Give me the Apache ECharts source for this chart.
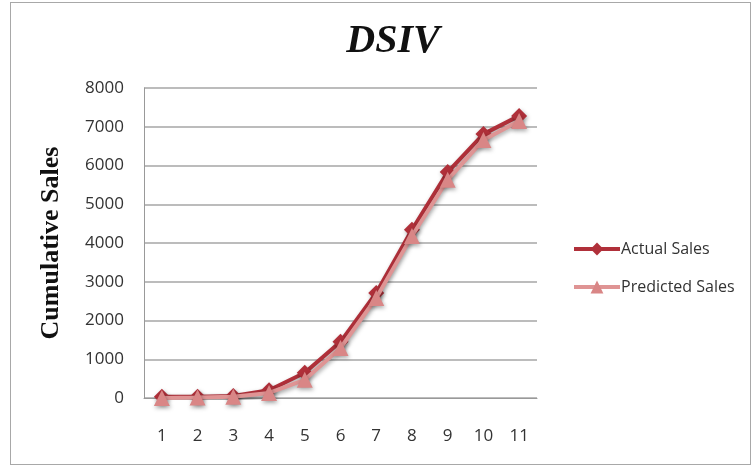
<!DOCTYPE html>
<html>
<head>
<meta charset="utf-8">
<script src="https://cdn.jsdelivr.net/npm/echarts@6/dist/echarts.min.js"></script>
<style>
  html, body { margin: 0; padding: 0; background: #fff; }
  #frame { position: absolute; left: 10px; top: 2px; width: 741px; height: 463px; border: 1px solid #a8a8a8; box-sizing: border-box; }
  #chart { width: 755px; height: 471px; }
</style>
</head>
<body>
<div id="frame"></div>
<div id="chart"></div>
<script>
// Period index along the x axis
const periods = ['1', '2', '3', '4', '5', '6', '7', '8', '9', '10', '11'];
// Cumulative sales per period
const actualSales = [30, 30, 50, 200, 650, 1450, 2710, 4340, 5830, 6810, 7280];
const predictedSales = [0, 10, 30, 130, 470, 1290, 2580, 4180, 5630, 6660, 7150];
// Value axis range
const yMin = 0;
const yMax = 8000;
const yStep = 1000;

const chart = echarts.init(document.getElementById('chart'));

const lineShadow = {
  shadowColor: 'rgba(0,0,0,0.35)',
  shadowBlur: 4,
  shadowOffsetX: 1,
  shadowOffsetY: 2
};

chart.setOption({
  backgroundColor: 'transparent',
  animation: false,
  title: {
    text: 'DSIV',
    left: 388,
    textAlign: 'center',
    top: 17,
    textStyle: {
      fontFamily: 'Liberation Serif',
      fontStyle: 'italic',
      fontWeight: 'bold',
      fontSize: 40,
      color: '#111'
    }
  },
  legend: {
    orient: 'vertical',
    left: 567,
    top: 236,
    itemGap: 22,
    itemWidth: 46,
    itemHeight: 16,
    lineStyle: { width: 4 },
    textStyle: {
      fontFamily: 'Open Sans',
      fontSize: 16,
      color: '#333',
      padding: [0, 0, 0, -4]
    },
    data: ['Actual Sales', 'Predicted Sales']
  },
  grid: {
    left: 144,
    top: 88,
    width: 393,
    height: 310,
    containLabel: false
  },
  xAxis: {
    type: 'category',
    data: periods,
    boundaryGap: true,
    axisLine: { show: true, lineStyle: { color: '#999', width: 1 } },
    axisTick: { show: false },
    axisLabel: {
      margin: 30,
      fontFamily: 'Open Sans',
      fontSize: 17,
      color: '#333'
    }
  },
  yAxis: {
    type: 'value',
    min: yMin,
    max: yMax,
    interval: yStep,
    name: 'Cumulative Sales',
    nameLocation: 'middle',
    nameGap: 80,
    nameRotate: 90,
    nameTextStyle: {
      fontFamily: 'Liberation Serif',
      fontWeight: 'bold',
      fontSize: 26,
      color: '#111'
    },
    axisLine: { show: true, lineStyle: { color: '#999', width: 1 } },
    axisTick: { show: false },
    splitLine: { lineStyle: { color: '#a6a6a6', width: 1.5 } },
    axisLabel: {
      margin: 20,
      fontFamily: 'Open Sans',
      fontSize: 17,
      color: '#333',
      formatter: (v) => String(v)
    }
  },
  series: [
    {
      name: 'Actual Sales',
      type: 'line',
      data: actualSales,
      symbol: 'diamond',
      symbolSize: 16,
      itemStyle: Object.assign({ color: '#b0303a' }, lineShadow),
      lineStyle: Object.assign({ color: '#b0303a', width: 4 }, lineShadow),
      z: 3
    },
    {
      name: 'Predicted Sales',
      type: 'line',
      data: predictedSales,
      symbol: 'triangle',
      symbolSize: 16,
      itemStyle: Object.assign({ color: '#d98686' }, lineShadow),
      lineStyle: Object.assign({ color: '#df9494', width: 4 }, lineShadow),
      z: 4
    }
  ]
});
</script>
</body>
</html>
